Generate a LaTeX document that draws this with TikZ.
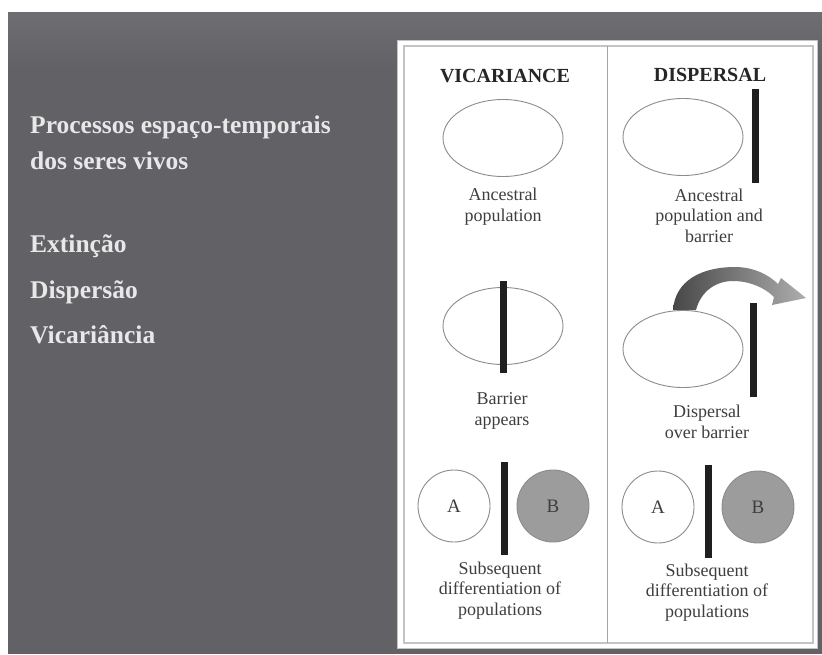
\documentclass[tikz,border=0pt]{standalone}
\usepackage{fontspec}
\setmainfont{Liberation Serif}
\usepackage{tikz}
\usetikzlibrary{shapes.geometric,positioning}
\usepackage{xcolor}
\definecolor{slidegray}{RGB}{98,97,102}
\definecolor{slidetop}{RGB}{110,109,114}
\definecolor{slidetext}{RGB}{232,232,232}
\definecolor{popline}{RGB}{140,140,140}
\definecolor{popfill}{RGB}{156,156,156}
\definecolor{framegray}{RGB}{196,196,196}
\definecolor{captext}{RGB}{62,62,62}

\tikzset{
  pop/.style={draw=popline, line width=0.9pt, ellipse, minimum width=120pt, minimum height=77pt, inner sep=0pt},
  subpop/.style={draw=popline, line width=0.9pt, circle, minimum size=72pt, inner sep=0pt, font=\fontsize{19}{19}\selectfont, text=captext},
  barrier/.style={fill=black!88, rectangle, minimum width=7pt, inner sep=0pt},
  caption/.style={align=center, font=\fontsize{18}{20.5}\selectfont, text=captext, inner sep=0pt},
  heading/.style={font=\fontsize{20}{20}\selectfont\bfseries, text=black!85, inner sep=0pt},
  slideitem/.style={anchor=base west, font=\fontsize{25.5}{36}\selectfont\bfseries, text=slidetext, inner sep=0pt, align=left}
}

\begin{document}
\begin{tikzpicture}[x=1pt, y=-1pt]
  \useasboundingbox (0,0) rectangle (822,654);
  \fill[white] (0,0) rectangle (822,654);
  \fill[slidegray] (8,12) rectangle (822,654);
  \shade[top color=slidetop, bottom color=slidegray] (8,12) rectangle (822,70);

  % slide text
  \node[slideitem] (title) at (30,169) {Processos espaço-temporais\\dos seres vivos};
  \node[slideitem] (extinction) at (30,252) {Extinção};
  \node[slideitem] (dispersion) at (30,298) {Dispersão};
  \node[slideitem] (vicariance) at (30,343) {Vicariância};

  % panel
  \fill[white, draw=framegray, line width=1pt] (397,40) rectangle (817,648);
  \draw[framegray, line width=1.5pt] (404,46) rectangle (813,643);
  \draw[black!35, line width=0.8pt] (607,46) -- (607,643);

  % vicariance column
  \node[heading] (vichead) at (505,76) {VICARIANCE};
  \node[pop] (vicanc) at (503,138) {};
  \node[caption, anchor=base] (vicanctxt) at (503,221) {Ancestral\\population};
  \node[pop] (vicsplit) at (503,326) {};
  \node[barrier, minimum height=92pt] (vicbar) at (503,327) {};
  \node[caption, anchor=base] (vicsplittxt) at (502,425) {Barrier\\appears};
  \node[subpop] (vica) at (454,506) {A};
  \node[subpop, fill=popfill] (vicb) at (553,506) {B};
  \node[barrier, minimum height=93pt] (vicbarlow) at (504,508) {};
  \node[caption, anchor=base] (vicdifftxt) at (500,615) {Subsequent\\differentiation of\\populations};

  % dispersal column
  \node[heading] (dishead) at (710,75) {DISPERSAL};
  \node[pop] (disanc) at (683,137) {};
  \node[barrier, minimum height=94pt] (disbar) at (755,136) {};
  \node[caption, anchor=base] (disanctxt) at (709,242) {Ancestral\\population and\\barrier};
  \shade[left color=black!72, right color=black!32]
    (673,310) .. controls (675,281) and (701,267) .. (735,267)
    .. controls (754,267) and (769,275) .. (778,284)
    -- (781,278) -- (806,298) -- (772,305) -- (774,297)
    .. controls (765,288) and (750,281) .. (733,281)
    .. controls (716,281) and (701,291) .. (696,310) -- cycle;
  \node[pop, fill=white] (disover) at (683,349) {};
  \node[barrier, minimum height=94pt] (disbarmid) at (753,350) {};
  \node[caption, anchor=base] (disovertxt) at (707,438) {Dispersal\\over barrier};
  \node[subpop] (disa) at (658,507) {A};
  \node[subpop, fill=popfill] (disb) at (758,507) {B};
  \node[barrier, minimum height=93pt] (disbarlow) at (708,511) {};
  \node[caption, anchor=base] (disdifftxt) at (707,617) {Subsequent\\differentiation of\\populations};
\end{tikzpicture}
\end{document}
